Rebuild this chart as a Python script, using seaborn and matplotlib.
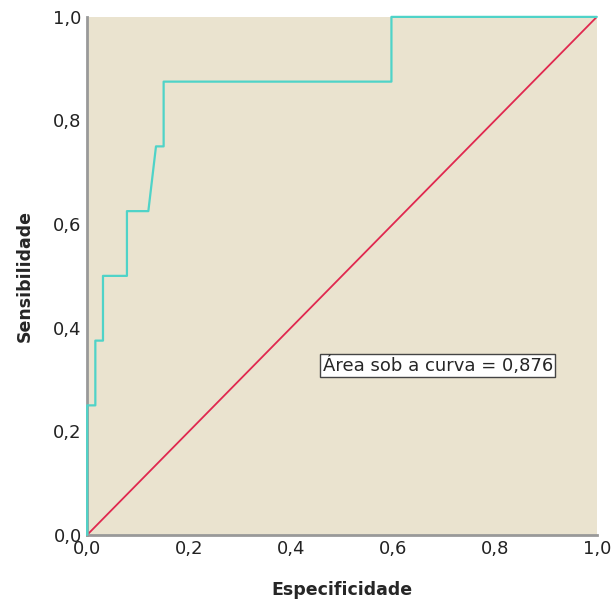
import matplotlib
matplotlib.use("Agg")
import matplotlib.pyplot as plt
import seaborn as sns
import pandas as pd

# Pontos da curva ROC
especificidade = [0.0, 0.0, 0.016, 0.016, 0.031, 0.031, 0.078, 0.078, 0.12, 0.135, 0.15, 0.15, 0.597, 0.597, 1.0]
sensibilidade = [0.0, 0.25, 0.25, 0.375, 0.375, 0.5, 0.5, 0.625, 0.625, 0.75, 0.75, 0.875, 0.875, 1.0, 1.0]
referencia_x = [0.0, 1.0]
referencia_y = [0.0, 1.0]
ticks = [0.0, 0.2, 0.4, 0.6, 0.8, 1.0]
tick_labels = ["0,0", "0,2", "0,4", "0,6", "0,8", "1,0"]
auc_texto = "Área sob a curva = 0,876"

df_roc = pd.DataFrame({"x": especificidade, "y": sensibilidade})
df_ref = pd.DataFrame({"x": referencia_x, "y": referencia_y})

sns.set_style("white")
plt.rcParams["font.family"] = ["DejaVu Sans"]

fig = plt.figure(figsize=(6.14, 6.03), dpi=100)
ax = fig.add_axes([0.142, 0.113, 0.830, 0.859])
ax.set_facecolor("#EAE3CF")

sns.lineplot(data=df_ref, x="x", y="y", color="#E0284F", linewidth=1.3, ax=ax)
sns.lineplot(data=df_roc, x="x", y="y", sort=False, estimator=None,
             color="#4FD3C8", linewidth=1.6, ax=ax, zorder=3, clip_on=False)

ax.set_xlim(0, 1)
ax.set_ylim(0, 1)
ax.set_xticks(ticks)
ax.set_xticklabels(tick_labels)
ax.set_yticks(ticks)
ax.set_yticklabels(tick_labels)
ax.tick_params(axis="both", length=0, labelsize=13, colors="#222222", pad=4)

for lado in ["top", "right"]:
    ax.spines[lado].set_visible(False)
for lado in ["left", "bottom"]:
    ax.spines[lado].set_color("#999999")
    ax.spines[lado].set_linewidth(2)

ax.set_xlabel("Especificidade", fontsize=12.5, fontweight="bold", labelpad=16)
ax.set_ylabel("Sensibilidade", fontsize=12.5, fontweight="bold", labelpad=14)

ax.text(0.462, 0.327, auc_texto, fontsize=13, ha="left", va="center",
        bbox=dict(facecolor="white", edgecolor="#444444", linewidth=1, pad=1.5))

fig.savefig("out.png", dpi=100)
